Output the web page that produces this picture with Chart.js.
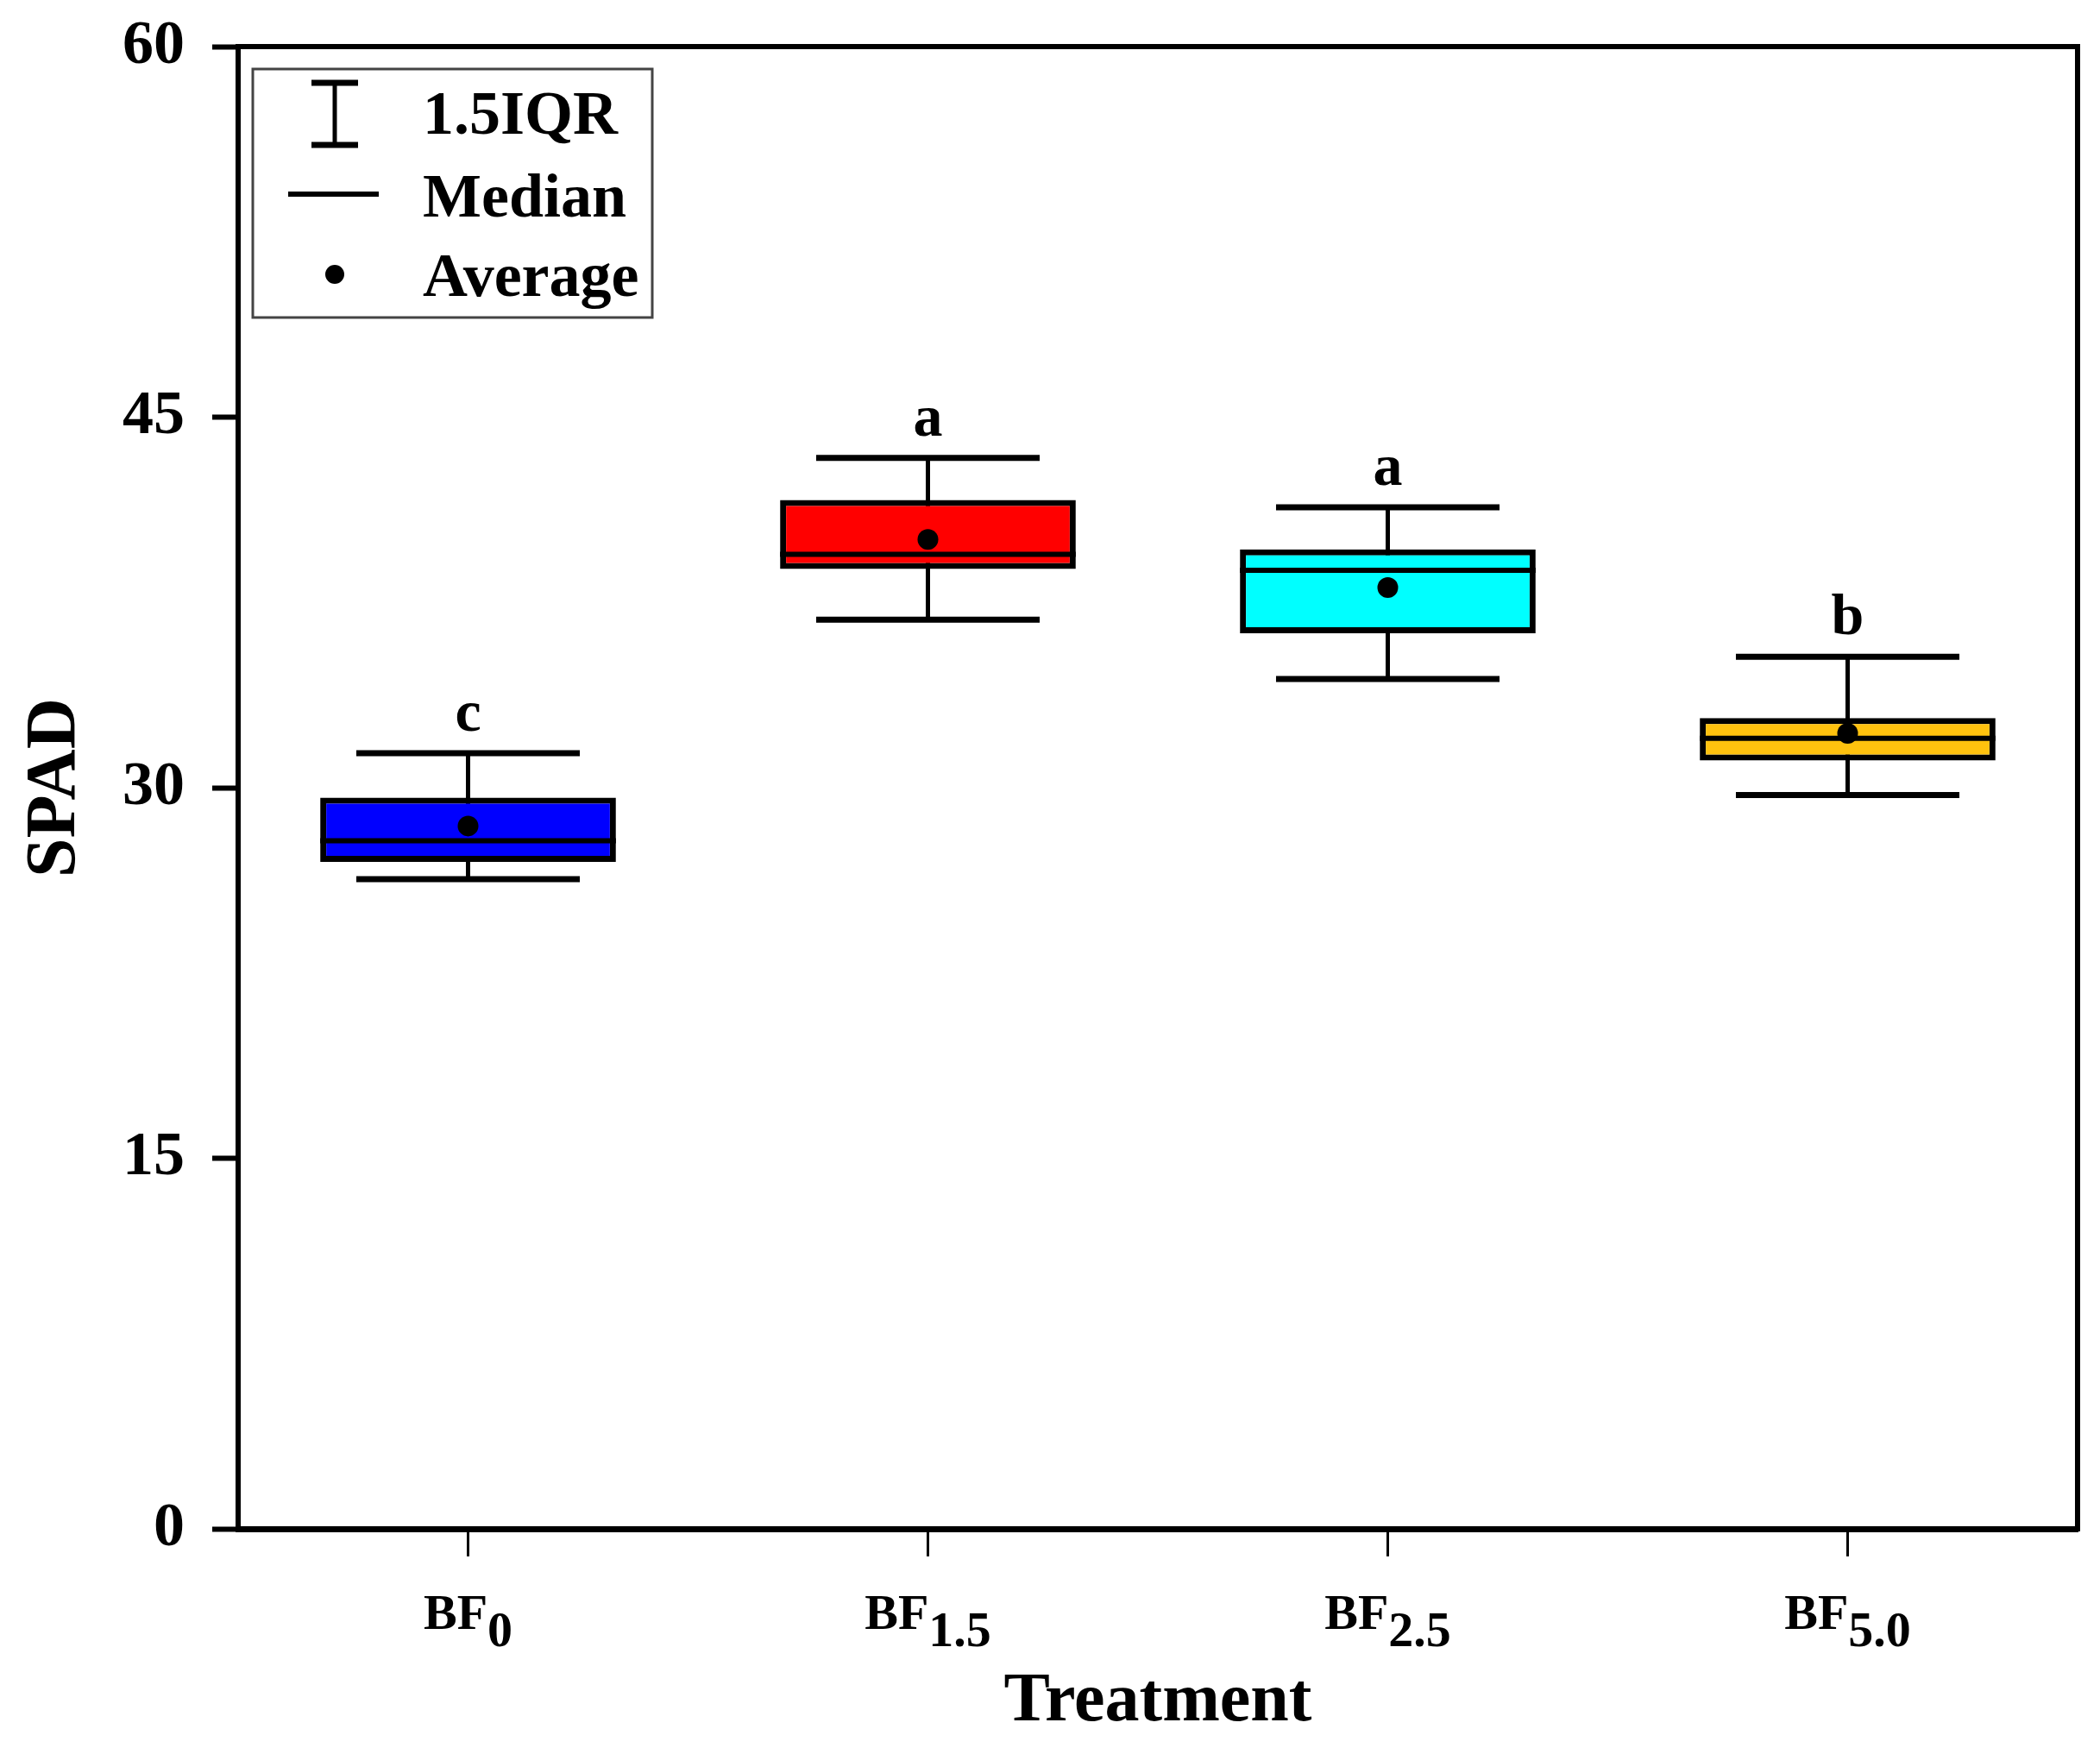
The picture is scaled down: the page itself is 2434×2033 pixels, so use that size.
<!DOCTYPE html>
<html lang="en">
<head>
  <meta charset="UTF-8">
  <title>SPAD by Treatment</title>
  <style>
    html, body {
      margin: 0;
      padding: 0;
      background: #ffffff;
      overflow: hidden;
    }
    .chart-container {
      width: 2434px;
      height: 2033px;
      position: relative;
    }
  </style>
</head>
<body>
  <div class="chart-container">
    <canvas id="spadChart"></canvas>
  </div>

  <script src="https://cdn.jsdelivr.net/npm/chart.js"></script>
  <script>
    // treatments (base name + subscript)
    const catBase = ['BF', 'BF', 'BF', 'BF'];
    const catSub = ['0', '1.5', '2.5', '5.0'];

    // box plot statistics
    const whiskerLow = [26.3, 36.8, 34.4, 29.7];
    const quartile1 = [27.0, 38.85, 36.25, 31.1];
    const medians = [27.85, 39.45, 38.8, 32.0];
    const quartile3 = [29.6, 41.65, 39.65, 32.82];
    const whiskerHigh = [31.4, 43.35, 41.35, 35.3];
    const averages = [28.45, 40.05, 38.1, 32.2];
    const groupLetters = ['c', 'a', 'a', 'b'];

    const yTicks = [0, 15, 30, 45, 60];
    const legendNames = ['1.5IQR', 'Median', 'Average'];

    const boxColors = ['#0000ff', '#ff0000', '#00ffff', '#ffc20e'];
    const serif = "'Liberation Serif', 'Times New Roman', serif";

    const boxPlot = {
      id: 'boxPlot',
      beforeDatasetsDraw(chart) {
        const { ctx, scales: { x, y } } = chart;
        const capHalf = (x.getPixelForValue(1) - x.getPixelForValue(0)) * 0.243;
        ctx.save();
        ctx.strokeStyle = '#000';
        whiskerLow.forEach((lo, i) => {
          const cx = x.getPixelForValue(i);
          const yl = y.getPixelForValue(lo);
          const yh = y.getPixelForValue(whiskerHigh[i]);
          ctx.lineWidth = 5;
          ctx.beginPath();
          ctx.moveTo(cx, yl);
          ctx.lineTo(cx, yh);
          ctx.stroke();
          ctx.lineWidth = 7;
          ctx.beginPath();
          ctx.moveTo(cx - capHalf, yl);
          ctx.lineTo(cx + capHalf, yl);
          ctx.moveTo(cx - capHalf, yh);
          ctx.lineTo(cx + capHalf, yh);
          ctx.stroke();
        });
        ctx.restore();
      },
      afterDatasetDraw(chart, args) {
        if (args.index !== 0) return;
        const { ctx, scales: { y } } = chart;
        ctx.save();
        ctx.strokeStyle = '#000';
        ctx.lineWidth = 6;
        args.meta.data.forEach((bar, i) => {
          const my = y.getPixelForValue(medians[i]);
          ctx.beginPath();
          ctx.moveTo(bar.x - bar.width / 2, my);
          ctx.lineTo(bar.x + bar.width / 2, my);
          ctx.stroke();
        });
        ctx.restore();
      },
      afterDraw(chart) {
        const { ctx, chartArea: ca, scales: { x, y } } = chart;
        ctx.save();

        // top and right frame
        ctx.strokeStyle = '#000';
        ctx.lineWidth = 6;
        ctx.beginPath();
        ctx.moveTo(ca.left - 3, ca.top);
        ctx.lineTo(ca.right, ca.top);
        ctx.lineTo(ca.right, ca.bottom + 3);
        ctx.stroke();

        // significance letters
        ctx.fillStyle = '#000';
        ctx.font = 'bold 68px ' + serif;
        ctx.textAlign = 'center';
        ctx.textBaseline = 'alphabetic';
        groupLetters.forEach((t, i) => {
          ctx.fillText(t, x.getPixelForValue(i), y.getPixelForValue(whiskerHigh[i]) - 26);
        });

        // x tick labels with subscripts
        ctx.textAlign = 'left';
        const baseFont = 'bold 58px ' + serif;
        catBase.forEach((b, i) => {
          ctx.font = baseFont;
          const wb = ctx.measureText(b).width;
          const ws = ctx.measureText(catSub[i]).width;
          const x0 = x.getPixelForValue(i) - (wb + ws) / 2;
          const by = ca.bottom + 116;
          ctx.fillText(b, x0, by);
          ctx.fillText(catSub[i], x0 + wb, by + 20);
        });

        // legend
        const lx = ca.left + 17, ly = ca.top + 26;
        ctx.strokeStyle = '#444';
        ctx.lineWidth = 3;
        ctx.strokeRect(lx, ly, 463, 288);

        ctx.strokeStyle = '#000';
        const ix = lx + 95;
        ctx.lineWidth = 5;
        ctx.beginPath();
        ctx.moveTo(ix, ly + 16);
        ctx.lineTo(ix, ly + 88);
        ctx.stroke();
        ctx.lineWidth = 7;
        ctx.beginPath();
        ctx.moveTo(ix - 27, ly + 16);
        ctx.lineTo(ix + 27, ly + 16);
        ctx.moveTo(ix - 27, ly + 88);
        ctx.lineTo(ix + 27, ly + 88);
        ctx.stroke();

        ctx.lineWidth = 6;
        ctx.beginPath();
        ctx.moveTo(lx + 41, ly + 145);
        ctx.lineTo(lx + 146, ly + 145);
        ctx.stroke();

        ctx.beginPath();
        ctx.arc(ix, ly + 238, 11, 0, Math.PI * 2);
        ctx.fill();

        ctx.font = 'bold 72px ' + serif;
        ctx.fillText(legendNames[0], lx + 197, ly + 75);
        ctx.fillText(legendNames[1], lx + 197, ly + 171);
        ctx.fillText(legendNames[2], lx + 197, ly + 263);

        ctx.restore();
      }
    };

    const ctx = document.getElementById('spadChart').getContext('2d');

    new Chart(ctx, {
      type: 'bar',
      data: {
        labels: catBase.map((b, i) => b + catSub[i]),
        datasets: [
          {
            label: 'IQR box',
            data: quartile1.map((q, i) => [q, quartile3[i]]),
            backgroundColor: boxColors,
            borderColor: '#000',
            borderWidth: 7,
            borderSkipped: false,
            categoryPercentage: 1,
            barPercentage: 0.643,
            order: 1
          },
          {
            type: 'line',
            label: 'Average',
            data: averages,
            showLine: false,
            pointRadius: 12,
            pointBackgroundColor: '#000',
            pointBorderWidth: 0,
            order: 0
          }
        ]
      },
      options: {
        responsive: true,
        maintainAspectRatio: false,
        animation: false,
        layout: {
          padding: { left: 0, right: 26, top: 54, bottom: 0 }
        },
        plugins: {
          legend: { display: false },
          tooltip: { enabled: false }
        },
        scales: {
          x: {
            offset: true,
            afterFit: s => { s.height = 261; },
            grid: {
              offset: false,
              drawOnChartArea: false,
              drawTicks: true,
              tickLength: 32,
              tickWidth: 3,
              tickColor: '#000'
            },
            border: { color: '#000', width: 7 },
            ticks: { display: false },
            title: {
              display: true,
              text: 'Treatment',
              color: '#000',
              font: { family: serif, size: 80, weight: 'bold', lineHeight: 1.2 },
              padding: { top: 0, bottom: 12 }
            }
          },
          y: {
            min: 0,
            max: 60,
            afterBuildTicks: s => { s.ticks = yTicks.map(v => ({ value: v })); },
            afterFit: s => {
              s.width = 276;
              s.paddingTop = 0;
              s.paddingBottom = 0;
            },
            grid: {
              drawOnChartArea: false,
              drawTicks: true,
              tickLength: 30,
              tickWidth: 6,
              tickColor: '#000'
            },
            border: { color: '#000', width: 6 },
            ticks: {
              color: '#000',
              padding: 32,
              font: { family: serif, size: 72, weight: 'bold' }
            },
            title: {
              display: true,
              text: 'SPAD',
              color: '#000',
              font: { family: serif, size: 82, weight: 'bold', lineHeight: 1.2 },
              padding: { top: 16, bottom: 0 }
            }
          }
        }
      },
      plugins: [boxPlot]
    });
  </script>
</body>
</html>
